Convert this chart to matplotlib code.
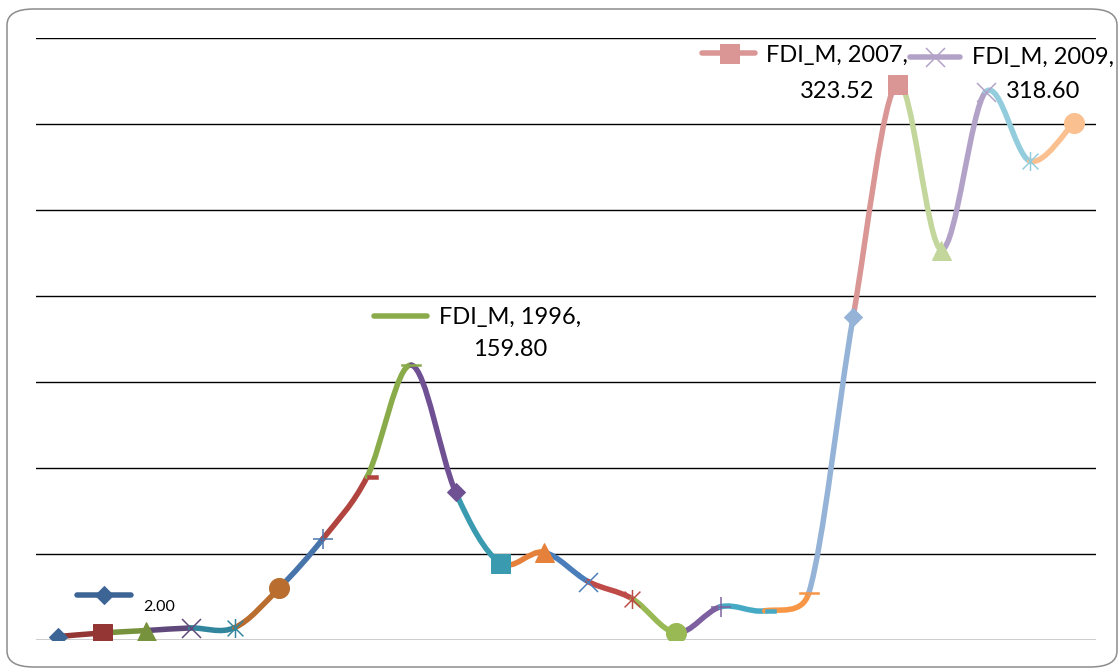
import numpy as np
import matplotlib.pyplot as plt
from matplotlib.path import Path
from matplotlib.patches import PathPatch, FancyBboxPatch
from matplotlib.lines import Line2D
from matplotlib.transforms import Affine2D

# FDI_M series, one value per year
years = list(range(1988, 2012))
fdi_m = [2.00, 4.1, 5.5, 7.0, 7.2, 30.0, 59.0, 95.0, 159.80, 86.0, 45.0, 51.0,
         34.0, 24.0, 4.1, 19.3, 17.0, 27.5, 187.6, 323.52, 227.0, 318.60, 278.5, 300.8]

# per-point colours (vary colours by point)
point_colors = [
    '#3c6494', '#943634', '#76923c', '#5f497a', '#31859c', '#b96d2f',
    '#4674ab', '#b1443f', '#8aab4a', '#6f5093', '#3a9ab0', '#e5813a',
    '#4a7ebb', '#be4b48', '#98b954', '#7d60a0', '#46aac5', '#f79646',
    '#95b3d7', '#d99694', '#c3d69b', '#b3a2c7', '#93cddd', '#fac090',
]
marker_cycle = ['diamond', 'square', 'triangle', 'x', 'star', 'circle', 'plus',
                'dash_short', 'dash_long']

# years that carry a data label
label_years = [1988, 1996, 2007, 2009]

W, H, DPI = 1120, 669, 100
PT = 72.0 / DPI  # points per pixel
LINE_PX = 5.5

star_path = Path([(-1, -1), (1, 1), (-1, 1), (1, -1), (0, -1.2), (0, 1.2)],
                 [Path.MOVETO, Path.LINETO, Path.MOVETO, Path.LINETO,
                  Path.MOVETO, Path.LINETO])
short_dash = Path([(0, -0.18), (1, -0.18), (1, 0.18), (0, 0.18), (0, -0.18)],
                  [Path.MOVETO, Path.LINETO, Path.LINETO, Path.LINETO, Path.CLOSEPOLY])
long_dash = Path([(-1, -0.13), (1, -0.13), (1, 0.13), (-1, 0.13), (-1, -0.13)],
                 [Path.MOVETO, Path.LINETO, Path.LINETO, Path.LINETO, Path.CLOSEPOLY])

# marker name -> (matplotlib marker, size px, filled, edge width px)
marker_specs = {
    'diamond': ('D', 13, True, 1),
    'square': ('s', 19, True, 1),
    'triangle': ('^', 19, True, 1),
    'x': ('x', 19, False, 1.5),
    'star': (star_path, 19, False, 1.5),
    'circle': ('o', 20, True, 1),
    'plus': ('+', 20, False, 1.5),
    'dash_short': (short_dash, 22, True, 0.5),
    'dash_long': (long_dash, 20, True, 0.5),
}


def marker_line(x, y, name, color, **kw):
    m, size, filled, mew = marker_specs[name]
    return Line2D(x, y, linestyle='none', marker=m, markersize=size * PT,
                  markerfacecolor=color if filled else 'none',
                  markeredgecolor=color, markeredgewidth=mew * PT, **kw)


fig = plt.figure(figsize=(W / DPI, H / DPI), dpi=DPI)
# pixel coordinates measured from the top-left corner of the image
px = Affine2D().scale(1.0 / W, -1.0 / H).translate(0, 1) + fig.transFigure

border = FancyBboxPatch((7 / W, 2 / H), 1110 / W, 658 / H,
                        boxstyle='round,pad=0,rounding_size=0.024',
                        transform=fig.transFigure, facecolor='white',
                        edgecolor='#8c8c8c', linewidth=1.1, zorder=0)
fig.add_artist(border)

ax = fig.add_axes([36 / W, 29 / H, 1060 / W, 602 / H])
ax.set_xlim(-0.5, len(years) - 0.5)
ax.set_ylim(0, 350)
ax.axis('off')
for gy in range(0, 351, 50):
    ax.axhline(gy, color='black', linewidth=1.0, zorder=1)

# smoothed line, each segment in the colour of the point it ends on.
# Bezier handles follow the neighbours (1/6 of the chord), computed in
# screen space and capped at half the segment length.
xs = np.arange(len(years), dtype=float)
pts = ax.transData.transform(np.column_stack([xs, fdi_m]))
n = len(pts)


def handle(vec, seg_len):
    d = np.hypot(*vec)
    lim = 0.5 * seg_len
    return vec * (lim / d) if d > lim else vec


for i in range(1, n):
    p0 = pts[max(i - 2, 0)]
    p1 = pts[i - 1]
    p2 = pts[i]
    p3 = pts[min(i + 1, n - 1)]
    seg_len = np.hypot(*(p2 - p1))
    c1 = p1 + handle((p2 - p0) / 6.0, seg_len)
    c2 = p2 - handle((p3 - p1) / 6.0, seg_len)
    verts = ax.transData.inverted().transform(np.array([p1, c1, c2, p2]))
    seg = Path(verts, [Path.MOVETO, Path.CURVE4, Path.CURVE4, Path.CURVE4])
    ax.add_patch(PathPatch(seg, facecolor='none', edgecolor=point_colors[i],
                           linewidth=LINE_PX * PT, capstyle='round', zorder=2))

for i in range(n):
    ax.add_line(marker_line([xs[i]], [fdi_m[i]], marker_cycle[i % len(marker_cycle)],
                            point_colors[i], zorder=3))

# data labels with legend keys
font = 'Lato'
label_layout = {
    # year: (key x0, key x1, key y, text centre x, line 1 y, line 2 y)
    1996: (374, 427, 316, 510, 317, 349),
    2007: (702, 755, 53, 837, 55, 91),
    2009: (910, 960, 57, 1043, 57, 92),
}
for yr in label_years:
    i = years.index(yr)
    col = point_colors[i]
    mname = marker_cycle[i % len(marker_cycle)]
    if yr == years[0]:
        fig.add_artist(Line2D([77, 131], [595, 595], transform=px, color=col,
                              linewidth=LINE_PX * PT, solid_capstyle='round'))
        fig.add_artist(marker_line([104], [595], mname, col, transform=px))
        fig.text(143, 607, f'{fdi_m[i]:.2f}', transform=px, fontsize=11.5,
                 family=font, ha='left', va='center', color='black')
        continue
    kx0, kx1, ky, tx, ty1, ty2 = label_layout[yr]
    fig.add_artist(Line2D([kx0, kx1], [ky, ky], transform=px, color=col,
                          linewidth=LINE_PX * PT, solid_capstyle='round'))
    if not mname.startswith('dash'):
        fig.add_artist(marker_line([(kx0 + kx1) / 2], [ky], mname, col, transform=px))
    fig.text(tx, ty1, f'FDI_M, {yr},', transform=px, fontsize=17, family=font,
             ha='center', va='center', color='black')
    fig.text(tx, ty2, f'{fdi_m[i]:.2f}', transform=px, fontsize=17, family=font,
             ha='center', va='center', color='black')

fig.savefig('out.png', dpi=DPI)
